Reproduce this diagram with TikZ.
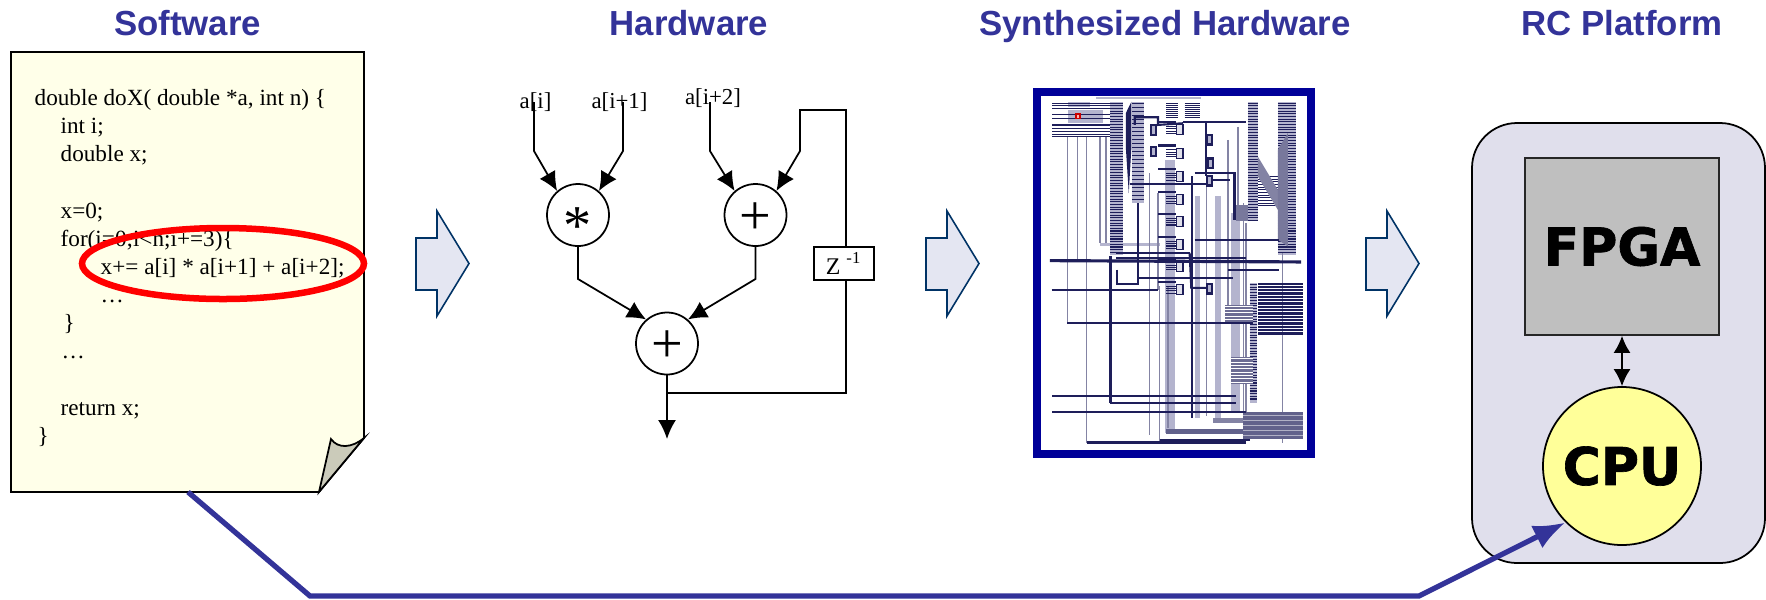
\documentclass[tikz,border=0pt]{standalone}
\usepackage{fontspec}
\setmainfont{Liberation Serif}
\setsansfont{Liberation Sans}
\newfontfamily\heavyfont[BoldFont={DejaVu Sans Bold},BoldFeatures={FakeBold=1.3}]{DejaVu Sans}
\usepackage{tikz}
\usetikzlibrary{positioning}
\usetikzlibrary{arrows.meta}
\usetikzlibrary{shapes.geometric}
\definecolor{titleblue}{HTML}{333399}
\definecolor{framenavy}{HTML}{000099}
\definecolor{paperyellow}{HTML}{FFFFE9}
\definecolor{foldgray}{HTML}{CBCBBA}
\definecolor{flowfill}{HTML}{E4E6F2}
\definecolor{flowline}{HTML}{003366}
\definecolor{boardfill}{HTML}{E0DFEC}
\definecolor{cpuyellow}{HTML}{FFFF99}
\definecolor{wiredark}{HTML}{1E1E5A}
\definecolor{wiregray}{HTML}{8484A4}
\definecolor{wireband}{HTML}{B4B4CE}
\tikzset{
  title/.style={font=\sffamily\bfseries\fontsize{9.9}{12}\selectfont,text=titleblue,anchor=base},
  codeline/.style={font=\fontsize{6.6}{8}\selectfont,text=black,anchor=base west,inner sep=0},
  siglabel/.style={font=\fontsize{6.5}{8}\selectfont,text=black,anchor=base,inner sep=0},
  sig/.style={black,line width=0.5pt},
  sigarrow/.style={sig,-{Latex[length=0.19cm,width=0.18cm]}},
  opnode/.style={circle,draw=black,line width=0.5pt,fill=white,minimum size=0.62cm,inner sep=0,font=\fontsize{16}{16}\selectfont},
  flowarrow/.style={draw=flowline,fill=flowfill,line width=0.45pt},
  wiregrayline/.style={wiregray,line width=0.4pt},
  wirethin/.style={wiredark,line width=0.3pt},
  wirethick/.style={wiredark,line width=0.6pt},
  heavy/.style={font=\heavyfont\bfseries\fontsize{14.8}{16}\selectfont,text=black},
}
\begin{document}
\begin{tikzpicture}
\useasboundingbox (0,0) rectangle (17.66,5.99);

% titles
\node[title] (tsoft) at (1.875,5.64) {Software};
\node[title] (thard) at (6.89,5.64) {Hardware};
\node[title] (tsynth) at (11.65,5.64) {Synthesized Hardware};
\node[title] (trc) at (16.22,5.64) {RC Platform};

% source page
\draw[fill=paperyellow,draw=black,line width=0.5pt] (0.11,5.47) -- (3.64,5.47) -- (3.64,1.61) -- (3.19,1.07) -- (0.11,1.07) -- cycle;
\draw[fill=foldgray,draw=black,line width=0.5pt] (3.19,1.07) -- (3.31,1.60) .. controls (3.38,1.50) and (3.52,1.51) .. (3.64,1.61) -- cycle;
\node[codeline] (code1) at (0.34,4.94) {double doX( double *a, int n) \{};
\node[codeline] (code2) at (0.60,4.66) {int i;};
\node[codeline] (code3) at (0.60,4.38) {double x;};
\node[codeline] (code4) at (0.60,3.81) {x=0;};
\node[codeline] (code5) at (0.60,3.53) {for(i=0;i<n;i+=3)\{};
\node[codeline] (code6) at (1.00,3.25) {x+= a[i] * a[i+1] + a[i+2];};
\node[codeline] (code7) at (1.00,2.97) {…};
\node[codeline] (code8) at (0.63,2.69) {\}};
\node[codeline] (code9) at (0.61,2.41) {…};
\node[codeline] (code10) at (0.60,1.84) {return x;};
\node[codeline] (code11) at (0.37,1.56) {\}};
\draw[red,line width=1.85pt] (2.23,3.355) ellipse (1.41 and 0.355);

% flow arrows
\foreach \x in {4.16,9.26,13.66} {
\draw[flowarrow] (\x,3.09) -- ++(0.21,0) -- ++(0,-0.26) -- ++(0.32,0.525) -- ++(-0.32,0.525) -- ++(0,-0.27) -- ++(-0.21,0) -- cycle;
}

% hardware graph
\node[opnode] (mult) at (5.78,3.84) {\smash{\raisebox{-0.29cm}{*}}};
\node[opnode] (add1) at (7.555,3.84) {\smash{\raisebox{-0.19cm}{+}}};
\node[opnode] (add2) at (6.67,2.555) {\smash{\raisebox{-0.19cm}{+}}};
\node[draw=black,fill=white,line width=0.5pt,minimum width=0.60cm,minimum height=0.33cm,inner sep=0,font=\fontsize{6.8}{8}\selectfont] (delay) at (8.44,3.355) {Z \textsuperscript{-1}};
\node[siglabel] (la) at (5.355,4.91) {a[i]};
\node[siglabel] (lb) at (6.195,4.91) {a[i+1]};
\node[siglabel] (lc) at (7.13,4.95) {a[i+2]};
\coordinate (atop) at (5.34,4.97);
\coordinate (abend) at (5.34,4.48);
\coordinate (btop) at (6.23,4.97);
\coordinate (bbend) at (6.23,4.48);
\coordinate (ctop) at (7.10,4.97);
\coordinate (cbend) at (7.10,4.48);
\coordinate (fbtop) at (8.46,4.89);
\coordinate (fbleft) at (8.00,4.89);
\coordinate (fbbend) at (8.00,4.48);
\coordinate (fbbottom) at (8.46,2.06);
\coordinate (junction) at (6.67,2.06);
\coordinate (multbend) at (5.78,3.20);
\coordinate (addbend) at (7.555,3.20);
\coordinate (outtip) at (6.67,1.60);
\draw[sigarrow] (atop) -- (abend) -- (mult.131);
\draw[sigarrow] (btop) -- (bbend) -- (mult.49);
\draw[sigarrow] (ctop) -- (cbend) -- (add1.131);
\draw[sigarrow] (delay.north -| fbtop) -- (fbtop) -- (fbleft) -- (fbbend) -- (add1.49);
\draw[sig] (junction) -- (fbbottom) -- (delay.south -| fbbottom);
\draw[sigarrow] (mult.south) -- (multbend) -- (add2.131);
\draw[sigarrow] (add1.south) -- (addbend) -- (add2.49);
\draw[sigarrow] (add2.south) -- (outtip);

% synthesized netlist
\begin{scope}[shift={(10.20,5.19)},x=0.003333cm,y=-0.003333cm]
\fill[wireband] (435,240) rectangle (465,1060);
\fill[wireband] (525,350) rectangle (540,1015);
\fill[wireband] (585,350) rectangle (605,1030);
\fill[wireband] (635,400) rectangle (660,1000);
\fill[wireband] (272,65) rectangle (310,525);
\fill[wireband] (338,65) rectangle (372,370);
\fill[wireband] (685,65) rectangle (715,425);
\fill[wireband] (690,610) rectangle (712,970);
\fill[wireband] (775,65) rectangle (830,525);
\fill[wireband] (145,65) rectangle (210,80);
\fill[wireband] (145,90) rectangle (250,130);
\fill[wireband] (228,52) rectangle (545,58);
\fill[wireband] (240,490) rectangle (420,500);
\foreach \xa/\ya/\yb in {142/170/730,172/170/540,200/170/1090,240/170/490,258/170/490,390/280/1067,415/340/630,420/620/1085,560/240/1010,625/180/680,655/140/420,672/370/1000,790/520/1090,445/620/1045,680/430/1000} {
\draw[wiregrayline] (\xa,\ya) -- (\xa,\yb);
}
\foreach \ya in {70,78,...,520} {
\draw[wirethin] (272,\ya) -- (310,\ya);
\draw[wirethin] (775,\ya) -- (830,\ya);
}
\foreach \ya in {70,82,...,366} {
\draw[wirethin] (338,\ya) -- (372,\ya);
}
\foreach \ya in {70,78,...,426} {
\draw[wirethin] (685,\ya) -- (715,\ya);
}
\foreach \ya in {615,623,...,965} {
\draw[wirethin] (690,\ya) -- (712,\ya);
}
\foreach \ya in {290,298,...,380} {
\draw[wirethin] (715,\ya) -- (775,\ya);
}
\foreach \ya in {612,622,...,765} {
\draw[wirethick] (715,\ya) -- (850,\ya);
}
\foreach \ya/\xa in {70/97,76/97,85/97,105/97,115/97,145/97,155/97,165/97,170/97} {
\draw[wirethin] (\xa,\ya) -- (270,\ya);
}
\foreach \xa/\xb in {440/475,495/540} {
\foreach \ya in {70,76,...,112} {
\draw[wirethin] (\xa,\ya) -- (\xb,\ya);
}
}
% dense blocks
\fill[wiredark!65] (615,675) rectangle (700,735);
\foreach \ya in {680,690,...,730} {
\draw[white,line width=0.25pt] (615,\ya) -- (700,\ya);
}
\fill[wiredark!65] (635,832) rectangle (700,915);
\foreach \ya in {838,848,...,910} {
\draw[white,line width=0.25pt] (635,\ya) -- (700,\ya);
}
\fill[wiredark!70] (670,998) rectangle (850,1080);
\foreach \ya in {1010,1025,...,1070} {
\draw[wiredark!35,line width=0.3pt] (670,\ya) -- (850,\ya);
}
\fill[wiredark] (318,100) -- (335,65) -- (335,200) -- (327,340) -- (318,200) -- cycle;
\fill[wiredark!55] (715,230) -- (775,330) -- (775,390) -- (715,290) -- cycle;
\fill[wiredark!60] (775,210) -- (805,160) -- (805,500) -- (775,480) -- cycle;
\fill[wiredark!70] (440,1048) rectangle (670,1065);
\fill[wiredark!55] (580,1015) rectangle (670,1030);
\fill[wiredark!60] (650,375) rectangle (685,425);
% gates
\foreach \ya in {135,205,275,345,410,480,545,615} {
\draw[wirethin,fill=wireband!40] (470,\ya) rectangle (490,\ya+30);
\foreach \yb in {5,12,...,26} {
\draw[wirethin] (440,\ya+\yb) -- (470,\ya+\yb);
}
\draw[wirethick] (415,\ya-8) -- (470,\ya-8);
}
\foreach \xa/\ya in {563/303,563/628,395/215,395/150,563/180,565/250} {
\draw[wirethick,fill=wireband] (\xa,\ya-14) rectangle (\xa+14,\ya+14);
}
% long wires
\foreach \ya/\xa/\xb in {631/95/415,730/142/700,950/97/650,970/272/650,997/97/680,1090/200/680,1082/420/690,520/290/510,535/290/680,570/625/780,595/355/640,127/490/680,135/97/270,312/332/565,482/525/780} {
\draw[wirethick] (\xa,\ya) -- (\xb,\ya);
}
\draw[wiredark,line width=0.9pt] (90,543) -- (845,547);
\draw[wirethick] (272,530) -- (272,970);
\draw[wirethick] (518,290) -- (518,1015);
\draw[wirethick] (292,570) -- (292,612) -- (355,612) -- (355,370);
\draw[wirethick] (510,520) -- (515,625) -- (565,625);
\draw[wirethick] (525,280) -- (645,280) -- (645,420);
\draw[wirethick] (345,135) -- (345,112) -- (415,112) -- (415,135) -- (490,130);
\draw[wirethick] (558,130) -- (558,290);
\draw[wirethick] (580,300) -- (632,300);
\fill[red!80!black] (166,100) rectangle (182,118);
\fill[white!70!red] (171,104) rectangle (177,113);
\end{scope}
\draw[framenavy,line width=2.28pt] (10.365,1.45) rectangle (13.105,5.075);

% platform
\node[draw=black,fill=boardfill,line width=0.5pt,rounded corners=0.45cm,minimum width=2.93cm,minimum height=4.40cm,inner sep=0] (board) at (16.185,2.56) {};
\node[heavy,draw=black!85,fill=black!25,line width=0.5pt,minimum width=1.94cm,minimum height=1.77cm,inner sep=0] (fpga) at (16.22,3.525) {FPGA};
\node[heavy,circle,draw=black,fill=cpuyellow,line width=0.5pt,minimum size=1.58cm,inner sep=0] (cpu) at (16.22,1.33) {CPU};
\draw[sig,{Latex[length=0.17cm,width=0.17cm]}-{Latex[length=0.17cm,width=0.17cm]}] (fpga.south) -- (cpu.north);

% software to cpu
\coordinate (docout) at (1.88,1.07);
\coordinate (railstart) at (3.10,0.03);
\coordinate (railend) at (14.19,0.03);
\draw[titleblue,line width=1.5pt,-{Latex[length=0.32cm,width=0.25cm]}] (docout) -- (railstart) -- (railend) -- (cpu.225);
\end{tikzpicture}
\end{document}
